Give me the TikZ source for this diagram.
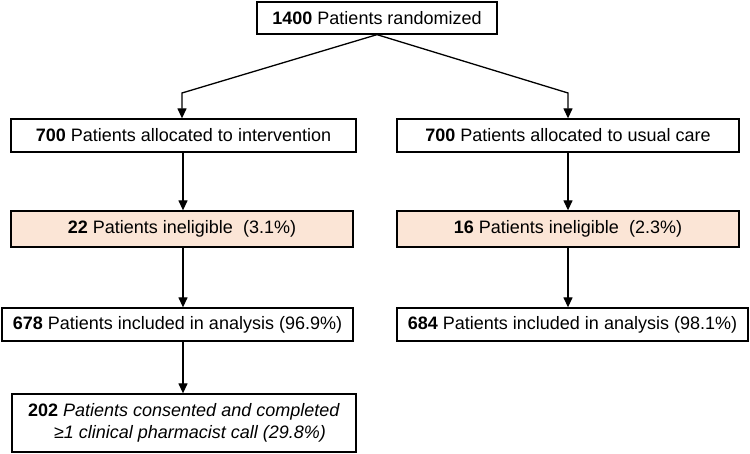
\documentclass[tikz,border=0pt]{standalone}
\usepackage{fontspec}
\setmainfont{Liberation Sans}
\usetikzlibrary{arrows.meta}
\definecolor{peach}{HTML}{FBE5D6}
\begin{document}
\begin{tikzpicture}[x=1pt,y=-1pt,
  box/.style={draw=black,line width=1.3pt,fill=white,inner sep=0pt,font=\fontsize{18}{21}\selectfont},
  pbox/.style={box,fill=peach},
  arr/.style={line width=1.3pt,-{Triangle[length=10pt,width=9pt]}},
  ln/.style={line width=1.3pt}]
\useasboundingbox (0,0) rectangle (750,454);
\node[box,minimum width=240pt,minimum height=32pt] (top) at (377,18) {\textbf{1400} Patients randomized};
\node[box,minimum width=345pt,minimum height=33pt] (li) at (183.5,135.5) {\textbf{700} Patients allocated to intervention};
\node[box,minimum width=342pt,minimum height=33pt] (ri) at (568,135.5) {\textbf{700} Patients allocated to usual care};
\node[pbox,minimum width=342pt,minimum height=36pt] (le) at (182,229) {\textbf{22} Patients ineligible\ \ (3.1\%)};
\node[pbox,minimum width=342pt,minimum height=36pt] (re) at (568,229) {\textbf{16} Patients ineligible\ \ (2.3\%)};
\node[box,minimum width=351pt,minimum height=33pt] (la) at (177.5,324.5) {\textbf{678} Patients included in analysis (96.9\%)};
\node[box,minimum width=351pt,minimum height=33pt] (ra) at (572.5,324.5) {\textbf{684} Patients included in analysis (98.1\%)};
\node[box,minimum width=344pt,minimum height=58pt,align=center] (lc) at (184,423) {\textbf{202} \textit{Patients consented and completed}\\[1pt]\textit{\hspace*{12pt}≥1 clinical pharmacist call (29.8\%)}};
\coordinate (Lx) at (183,0);
\coordinate (Rx) at (568,0);
\coordinate (Lb) at (182,93);
\coordinate (Rb) at (568,93);
\draw[arr] (top.south) -- (Lb) -- (Lb |- li.north);
\draw[arr] (top.south) -- (Rb) -- (Rb |- ri.north);
\draw[arr] (Lx |- li.south) -- (Lx |- le.north);
\draw[arr] (Lx |- le.south) -- (Lx |- la.north);
\draw[arr] (Lx |- la.south) -- (Lx |- lc.north);
\draw[arr] (Rx |- ri.south) -- (Rx |- re.north);
\draw[arr] (Rx |- re.south) -- (Rx |- ra.north);
\end{tikzpicture}
\end{document}
